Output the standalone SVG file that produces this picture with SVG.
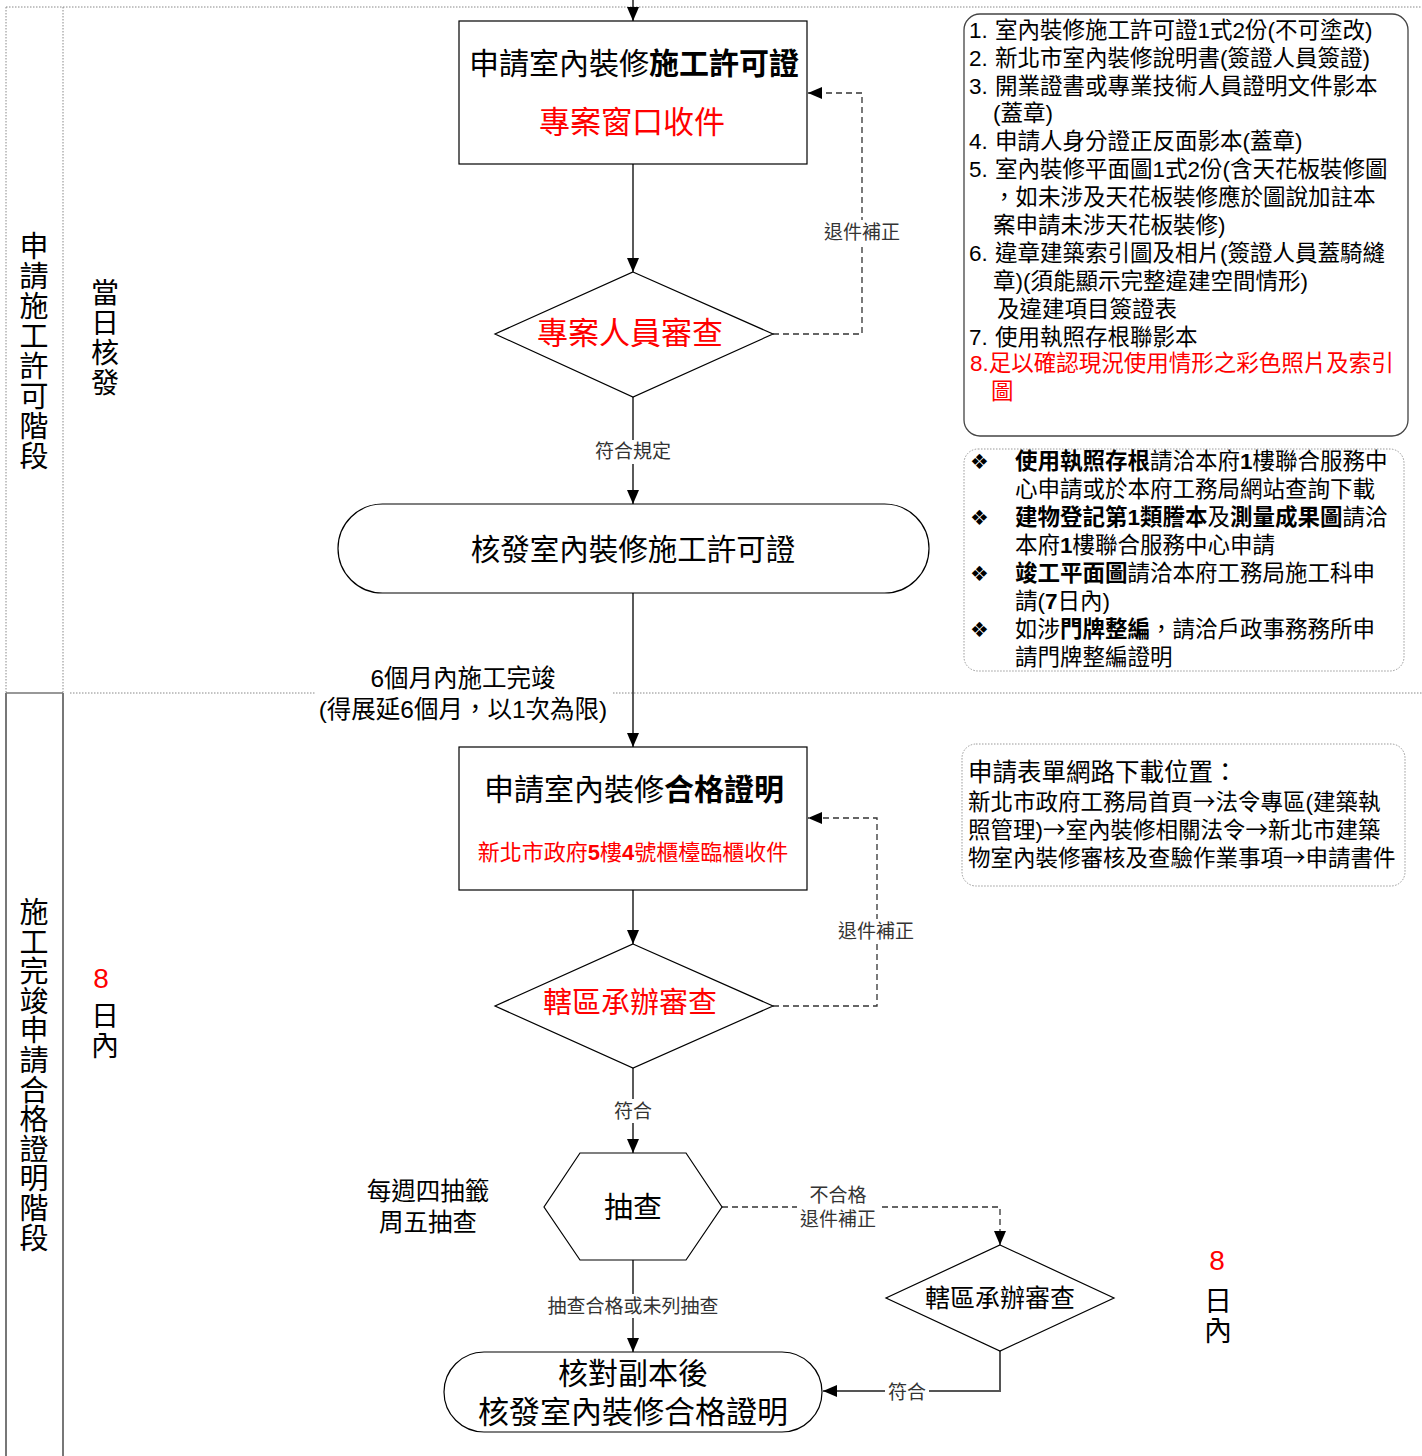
<svg xmlns="http://www.w3.org/2000/svg" width="1422" height="1456" viewBox="0 0 1422 1456">
<defs>
<style>
text{font-family:"Liberation Sans","Noto Sans CJK TC",sans-serif;fill:#000}
.red{fill:#ff0000}
.lbl{fill:#333;font-size:19px}
.b{font-weight:bold}
.ar{font-family:"Noto Sans CJK TC",sans-serif}
.node{fill:#fff;stroke:#000;stroke-width:1.2}
.conn{fill:none;stroke:#000;stroke-width:1.3}
.dash{fill:none;stroke:#333;stroke-width:1.3;stroke-dasharray:6 4}
.lane{fill:none;stroke:#888;stroke-width:1;stroke-dasharray:1.5 1.5}
.laneS{fill:none;stroke:#777;stroke-width:2}
.box{font-size:22.5px}
.bul{font-family:"DejaVu Sans",sans-serif;font-size:21px}
</style>
<marker id="ah" markerWidth="14" markerHeight="12" refX="14" refY="6" orient="auto" markerUnits="userSpaceOnUse"><path d="M0,0 L14,6 L0,12 z" fill="#000"/></marker>
</defs>
<rect width="1422" height="1456" fill="#fff"/>

<g id="lanes">
<line class="lane" x1="6" y1="7" x2="1422" y2="7"/>
<line class="lane" x1="6" y1="7" x2="6" y2="693"/>
<line class="lane" x1="63" y1="7" x2="63" y2="693"/>
<line x1="6" y1="693" x2="63" y2="693" stroke="#333" stroke-width="1.2"/>
<line class="lane" x1="70" y1="693" x2="315" y2="693"/>
<line class="lane" x1="613" y1="693" x2="1422" y2="693"/>
<line class="laneS" x1="6" y1="693" x2="6" y2="1456"/>
<line class="laneS" x1="63" y1="693" x2="63" y2="1456"/>
<text font-size="29" text-anchor="middle"><tspan x="34" y="257">申</tspan><tspan x="34" y="287">請</tspan><tspan x="34" y="317">施</tspan><tspan x="34" y="347">工</tspan><tspan x="34" y="377">許</tspan><tspan x="34" y="407">可</tspan><tspan x="34" y="437">階</tspan><tspan x="34" y="467">段</tspan></text>
<text font-size="28" text-anchor="middle"><tspan x="105" y="303">當</tspan><tspan x="105" y="333">日</tspan><tspan x="105" y="363">核</tspan><tspan x="105" y="393">發</tspan></text>
<text font-size="29" text-anchor="middle"><tspan x="34" y="923">施</tspan><tspan x="34" y="953">工</tspan><tspan x="34" y="982">完</tspan><tspan x="34" y="1012">竣</tspan><tspan x="34" y="1041">申</tspan><tspan x="34" y="1071">請</tspan><tspan x="34" y="1101">合</tspan><tspan x="34" y="1130">格</tspan><tspan x="34" y="1160">證</tspan><tspan x="34" y="1189">明</tspan><tspan x="34" y="1219">階</tspan><tspan x="34" y="1249">段</tspan></text>
<text class="red" font-size="28" text-anchor="middle" x="101" y="988">8</text>
<text font-size="28" text-anchor="middle"><tspan x="105" y="1026">日</tspan><tspan x="105" y="1056">內</tspan></text>
<text class="red" font-size="28" text-anchor="middle" x="1217" y="1270">8</text>
<text font-size="28" text-anchor="middle"><tspan x="1218" y="1311">日</tspan><tspan x="1218" y="1341">內</tspan></text>
</g>

<g id="connectors">
<line class="conn" x1="633" y1="0" x2="633" y2="21" marker-end="url(#ah)"/>
<line class="conn" x1="633" y1="164" x2="633" y2="272" marker-end="url(#ah)"/>
<polyline class="dash" points="773,334 862,334 862,93 808,93" marker-end="url(#ah)"/>
<line class="conn" x1="633" y1="397" x2="633" y2="504" marker-end="url(#ah)"/>
<line class="conn" x1="633" y1="593" x2="633" y2="747" marker-end="url(#ah)"/>
<line class="conn" x1="633" y1="890" x2="633" y2="944" marker-end="url(#ah)"/>
<polyline class="dash" points="773,1006 877,1006 877,818 808,818" marker-end="url(#ah)"/>
<line class="conn" x1="633" y1="1068" x2="633" y2="1153" marker-end="url(#ah)"/>
<polyline class="dash" points="722,1207 1000,1207 1000,1245" marker-end="url(#ah)"/>
<line class="conn" x1="633" y1="1260" x2="633" y2="1352" marker-end="url(#ah)"/>
<polyline fill="none" stroke="#555" stroke-width="2" points="1000,1351 1000,1391 823,1391" marker-end="url(#ah)"/>
<rect x="820" y="220" width="84" height="24" fill="#fff"/>
<text class="lbl" x="862" y="239" text-anchor="middle">退件補正</text>
<rect x="590" y="440" width="86" height="24" fill="#fff"/>
<text class="lbl" font-size="20" x="633" y="458" text-anchor="middle">符合規定</text>
<text font-size="24.5" x="463" y="687" text-anchor="middle">6個月內施工完竣</text>
<text font-size="24.5" x="463" y="718" text-anchor="middle">(得展延6個月，以1次為限)</text>
<rect x="834" y="919" width="84" height="24" fill="#fff"/>
<text class="lbl" x="876" y="938" text-anchor="middle">退件補正</text>
<rect x="610" y="1099" width="46" height="24" fill="#fff"/>
<text class="lbl" font-size="20" x="633" y="1118" text-anchor="middle">符合</text>
<rect x="797" y="1185" width="82" height="44" fill="#fff"/>
<text class="lbl" x="838" y="1202" text-anchor="middle">不合格</text>
<text class="lbl" x="838" y="1226" text-anchor="middle">退件補正</text>
<rect x="540" y="1294" width="186" height="24" fill="#fff"/>
<text class="lbl" font-size="20" x="633" y="1313" text-anchor="middle">抽查合格或未列抽查</text>
<rect x="885" y="1380" width="44" height="24" fill="#fff"/>
<text class="lbl" x="907" y="1399" text-anchor="middle">符合</text>
<text font-size="24.5" x="428" y="1200" text-anchor="middle">每週四抽籤</text>
<text font-size="24.5" x="428" y="1231" text-anchor="middle">周五抽查</text>
</g>

<g id="n1">
<rect class="node" x="459" y="21" width="348" height="143"/>
<text font-size="30" x="634" y="74" text-anchor="middle">申請室內裝修<tspan class="b">施工許可證</tspan></text>
<text class="red" font-size="31" x="632" y="133" text-anchor="middle">專案窗口收件</text>
</g>
<g id="n2">
<polygon class="node" points="633,272 773,334 633,397 495,334"/>
<text class="red" font-size="31" x="630" y="344" text-anchor="middle">專案人員審查</text>
</g>
<g id="n3">
<rect class="node" x="338" y="504" width="591" height="89" rx="44.5"/>
<text font-size="29.5" x="633" y="560" text-anchor="middle">核發室內裝修施工許可證</text>
</g>
<g id="n4">
<rect class="node" x="459" y="747" width="348" height="143"/>
<text font-size="30" x="634" y="800" text-anchor="middle">申請室內裝修<tspan class="b">合格證明</tspan></text>
<text class="red" font-size="22" x="633" y="860" text-anchor="middle">新北市政府<tspan class="b">5</tspan>樓<tspan class="b">4</tspan>號櫃檯臨櫃收件</text>
</g>
<g id="n5">
<polygon class="node" points="633,944 773,1006 633,1068 495,1006"/>
<text class="red" font-size="29" x="630" y="1013" text-anchor="middle">轄區承辦審查</text>
</g>
<g id="n6">
<polygon class="node" points="580,1153 686,1153 722,1207 686,1260 580,1260 544,1207"/>
<text font-size="29" x="633" y="1218" text-anchor="middle">抽查</text>
</g>
<g id="n7">
<polygon class="node" points="1000,1245 1114,1298 1000,1351 886,1298"/>
<text font-size="25" x="1000" y="1307" text-anchor="middle">轄區承辦審查</text>
</g>
<g id="n8">
<rect class="node" x="444" y="1352" width="378" height="80" rx="40"/>
<text font-size="30" x="633" y="1384" text-anchor="middle">核對副本後</text>
<text font-size="31" x="633" y="1423" text-anchor="middle">核發室內裝修合格證明</text>
</g>

<g id="note1">
<rect x="964" y="14" width="444" height="422" rx="16" fill="none" stroke="#444" stroke-width="1.3"/>
<g class="box">
<text x="969" y="38">1.</text><text x="995" y="38">室內裝修施工許可證1式2份(不可塗改)</text>
<text x="969" y="66">2.</text><text x="995" y="66">新北市室內裝修說明書(簽證人員簽證)</text>
<text x="969" y="94">3.</text><text x="995" y="94">開業證書或專業技術人員證明文件影本</text>
<text x="993" y="121">(蓋章)</text>
<text x="969" y="149">4.</text><text x="995" y="149">申請人身分證正反面影本(蓋章)</text>
<text x="969" y="177">5.</text><text x="995" y="177">室內裝修平面圖1式2份(含天花板裝修圖</text>
<text x="993" y="205">，如未涉及天花板裝修應於圖說加註本</text>
<text x="993" y="233">案申請未涉天花板裝修)</text>
<text x="969" y="261">6.</text><text x="995" y="261">違章建築索引圖及相片(簽證人員蓋騎縫</text>
<text x="993" y="289">章)(須能顯示完整違建空間情形)</text>
<text x="997" y="317">及違建項目簽證表</text>
<text x="969" y="345">7.</text><text x="995" y="345">使用執照存根聯影本</text>
<text class="red" x="970" y="371">8.足以確認現況使用情形之彩色照片及索引</text>
<text class="red" x="991" y="399">圖</text>
</g>
</g>

<g id="note2">
<rect x="964" y="449" width="440" height="222" rx="14" fill="none" stroke="#999" stroke-width="1" stroke-dasharray="1.5 1.5"/>
<g class="box">
<text class="bul" x="970" y="469">❖</text>
<text x="1015" y="469"><tspan class="b">使用執照存根</tspan>請洽本府<tspan class="b">1</tspan>樓聯合服務中</text>
<text x="1015" y="497">心申請或於本府工務局網站查詢下載</text>
<text class="bul" x="970" y="525">❖</text>
<text x="1015" y="525"><tspan class="b">建物登記第1類謄本</tspan>及<tspan class="b">測量成果圖</tspan>請洽</text>
<text x="1015" y="553">本府<tspan class="b">1</tspan>樓聯合服務中心申請</text>
<text class="bul" x="970" y="581">❖</text>
<text x="1015" y="581"><tspan class="b">竣工平面圖</tspan>請洽本府工務局施工科申</text>
<text x="1015" y="609">請(<tspan class="b">7</tspan>日內)</text>
<text class="bul" x="970" y="637">❖</text>
<text x="1015" y="637">如涉<tspan class="b">門牌整編</tspan>，請洽戶政事務務所申</text>
<text x="1015" y="665">請門牌整編證明</text>
</g>
</g>

<g id="note3">
<rect x="962" y="744" width="443" height="142" rx="14" fill="none" stroke="#999" stroke-width="1" stroke-dasharray="1.5 1.5"/>
<text font-size="24.5" x="968" y="781">申請表單網路下載位置：</text>
<g class="box">
<text x="968" y="810">新北市政府工務局首頁<tspan class="ar">→</tspan>法令專區(建築執</text>
<text x="968" y="838">照管理)<tspan class="ar">→</tspan>室內裝修相關法令<tspan class="ar">→</tspan>新北市建築</text>
<text x="968" y="866">物室內裝修審核及查驗作業事項<tspan class="ar">→</tspan>申請書件</text>
</g>
</g>
</svg>
